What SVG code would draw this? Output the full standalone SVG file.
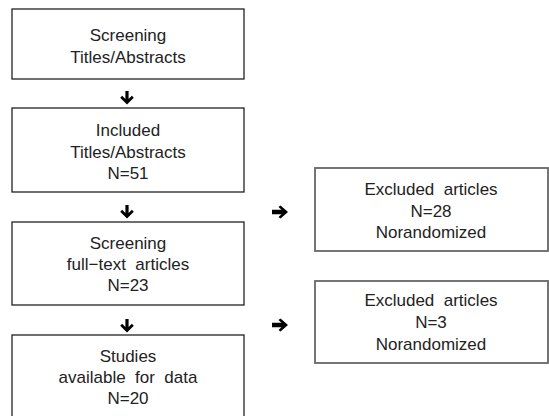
<svg xmlns="http://www.w3.org/2000/svg" width="549" height="416" viewBox="0 0 549 416">
<style>
.bl{fill:#fff;stroke:#222;stroke-width:1.3}
.br{fill:#fff;stroke:#666;stroke-width:1.8}
text{font-family:"Liberation Sans",Arial,sans-serif;font-size:17px;fill:#222;text-anchor:middle}
.ar{fill:#000}
</style>
<defs>
<path id="down" d="M-1.6,-13 L1.6,-13 L1.6,-5 L4.8,-8.2 L6.8,-6.2 L0,0.6 L-6.8,-6.2 L-4.8,-8.2 L-1.6,-5 Z"/>
<path id="right" d="M-8,-2.2 L1.5,-2.2 L-1.5,-5 L0.5,-6.5 L8,0 L0.5,6.5 L-1.5,5 L1.5,2.2 L-8,2.2 Z"/>
</defs>
<g id="n1"><rect class="bl" x="12" y="9" width="232" height="70"/>
<text x="128" y="41">Screening</text><text x="128" y="63">Titles/Abstracts</text></g>
<g id="n2"><rect class="bl" x="12" y="108" width="232" height="84"/>
<text x="128" y="136">Included</text><text x="128" y="158">Titles/Abstracts</text><text x="128" y="179">N=51</text></g>
<g id="n3"><rect class="bl" x="12" y="222" width="232" height="83"/>
<text x="128" y="249">Screening</text><text x="128" y="270" xml:space="preserve">full−text  articles</text><text x="128" y="291">N=23</text></g>
<g id="n4"><rect class="bl" x="12" y="335" width="232" height="90"/>
<text x="128" y="362">Studies</text><text x="128" y="383" xml:space="preserve">available  for  data</text><text x="128" y="404">N=20</text></g>
<g id="nA"><rect class="br" x="315" y="168" width="233" height="83"/>
<text x="431" y="195" xml:space="preserve">Excluded  articles</text><text x="431" y="217">N=28</text><text x="431" y="238">Norandomized</text></g>
<g id="nB"><rect class="br" x="315" y="281" width="233" height="82"/>
<text x="431" y="306" xml:space="preserve">Excluded  articles</text><text x="431" y="328">N=3</text><text x="431" y="350">Norandomized</text></g>
<g id="connectors" class="ar">
<use href="#down" x="127" y="104"/>
<use href="#down" x="127" y="218"/>
<use href="#down" x="127" y="332"/>
<use href="#right" x="280" y="212"/>
<use href="#right" x="280" y="325"/>
</g>
</svg>
